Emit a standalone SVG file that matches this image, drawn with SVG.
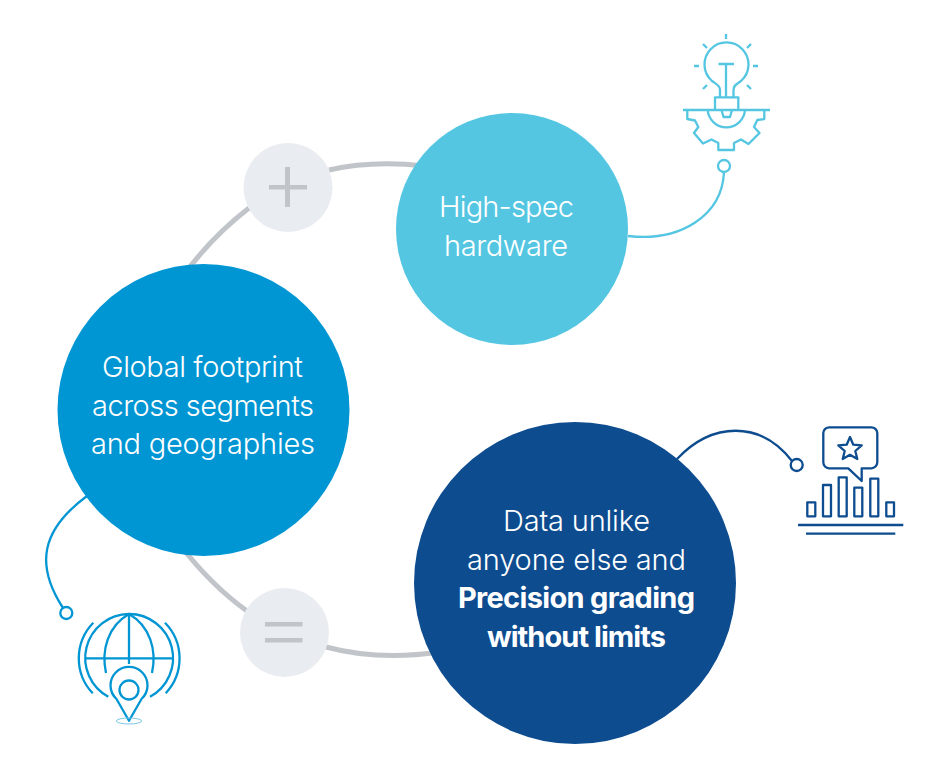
<svg xmlns="http://www.w3.org/2000/svg" width="950" height="778" viewBox="0 0 950 778">
<style>
.t{font-family:"Inter","Liberation Sans",sans-serif;font-size:29px;font-weight:300;fill:#fff;text-anchor:middle}
.b{font-weight:700}
.ic{fill:none;stroke-width:2.300;stroke-linecap:butt;stroke-linejoin:round}
.lb{stroke:#54c6e2}.gb{stroke:#0095d3}.db{stroke:#0d4c8f}
.ring{fill:none;stroke:#c1c4c9;stroke-width:5}
.op{fill:#e9ecf1}.sym{fill:#c1c4c9}
</style>
<rect width="950" height="778" fill="#fff"/>
<g id="connectors">
<path class="ring" d="M180 280Q210 238 249 208"/>
<path class="ring" d="M329 170Q372 160 425 166"/>
<path class="ring" d="M180 545Q212 586 247 611"/>
<path class="ring" d="M326 647Q378 661 440 652"/>
<path class="ic lb" d="M628 236C680 242 722 216 724 172"/>
<path class="ic db" d="M677 459C712 422 760 420 792 461"/>
<path class="ic gb" d="M87 496C41 530 35 565 63 608"/>
</g>
<g id="node-plus">
<circle class="op" cx="288" cy="187.500" r="44.500"/>
<rect class="sym" x="269" y="185" width="38" height="4.500"/>
<rect class="sym" x="285" y="167" width="5" height="40"/>
</g>
<g id="node-equals">
<circle class="op" cx="284.500" cy="632.500" r="44.500"/>
<rect class="sym" x="265" y="622" width="37.500" height="4.500"/>
<rect class="sym" x="265" y="638" width="37.500" height="4.500"/>
</g>
<g id="node-hardware">
<circle cx="512" cy="229" r="116" fill="#54c6e2"/>
<text class="t" x="506.500" y="217" textLength="135">High-spec</text>
<text class="t" x="506" y="256" textLength="124">hardware</text>
</g>
<g id="node-global">
<circle cx="203.500" cy="410" r="146" fill="#0095d3"/>
<text class="t" x="202.500" y="377" textLength="201">Global footprint</text>
<text class="t" x="203" y="416" textLength="222">across segments</text>
<text class="t" x="203" y="454" textLength="224">and geographies</text>
</g>
<g id="node-data">
<circle cx="575" cy="583" r="161" fill="#0d4c8f"/>
<text class="t" x="576.500" y="531" textLength="147">Data unlike</text>
<text class="t" x="576.500" y="570" textLength="219">anyone else and</text>
<text class="t b" x="576.500" y="608" textLength="237">Precision grading</text>
<text class="t b" x="576.500" y="647" textLength="179">without limits</text>
</g>
<g id="icon-bulb" class="ic lb">
<circle cx="724" cy="166" r="6"/>
<path d="M683 110H770M715 110V97.300H738.300V110"/>
<path d="M720 97.300V90C720 85 716 84 712 81A22 22 0 1 1 741 81C737 84 733.500 85 733.500 90V97.300"/>
<path d="M726 64V97.300M718.500 64H734"/>
<path d="M721.500 110L723.500 117H730L732 110"/>
<path d="M707.700 110A18.700 18.700 0 0 0 745 110"/>
<path d="M687.300 110V119L695 120.500L698.300 127L694 133L703 143.500L711.500 139.500L718.300 143V150H734V143L741 139.500L748.500 144L759.500 133L754 127L757.300 120L764.300 119V110"/>
<path d="M726 34V39M703 44L707 48M751 44L747 48M694 66H699M758 66H753M703 89L707 85M751 89L747 85"/>
</g>
<g id="icon-chart" class="ic db">
<circle cx="796.700" cy="465" r="6"/>
<path d="M848.300 468.300H829A6 6 0 0 1 823.300 462.300V433A6 6 0 0 1 829.300 427.300H871.300A6 6 0 0 1 877.300 433V462.300A6 6 0 0 1 871.300 468.300H861.700V481Z"/>
<path d="M850 437L853.300 444.700L861.700 445.300L855.300 451L857.300 459L850 454.800L842.700 459L844.700 451L838.300 445.300L846.700 444.700Z"/>
<rect x="807.300" y="502.300" width="8" height="14"/>
<rect x="823" y="485" width="8" height="31.300"/>
<rect x="838.700" y="477.300" width="8" height="39"/>
<rect x="854.300" y="487.700" width="8" height="28.600"/>
<rect x="870.300" y="478.700" width="8" height="37.600"/>
<rect x="886.300" y="502.300" width="7.700" height="14"/>
<path d="M798 525H903.300M806 533.700H895.300"/>
</g>
<g id="icon-globe" class="ic gb">
<circle cx="66.300" cy="613" r="6"/>
<path d="M108.300 696.700A44 44 0 0 1 129 614A44 44 0 0 1 150 696.700"/>
<path d="M93.300 622.700A51 51 0 0 0 92.700 693.300M165 622.700A51 51 0 0 1 165.700 693.300"/>
<path d="M106 673C101 650 108 626 129 614C150 626 157 650 152 673"/>
<path d="M129 614V664M85 658.300H173.300"/>
<path d="M129 720.700L116.500 699A18.500 18.500 0 1 1 141.500 699Z"/>
<circle cx="129" cy="690" r="9.500"/>
<ellipse cx="129" cy="721" rx="12.700" ry="3" stroke-width="1" stroke="#7cc8e8"/>
</g>
</svg>
